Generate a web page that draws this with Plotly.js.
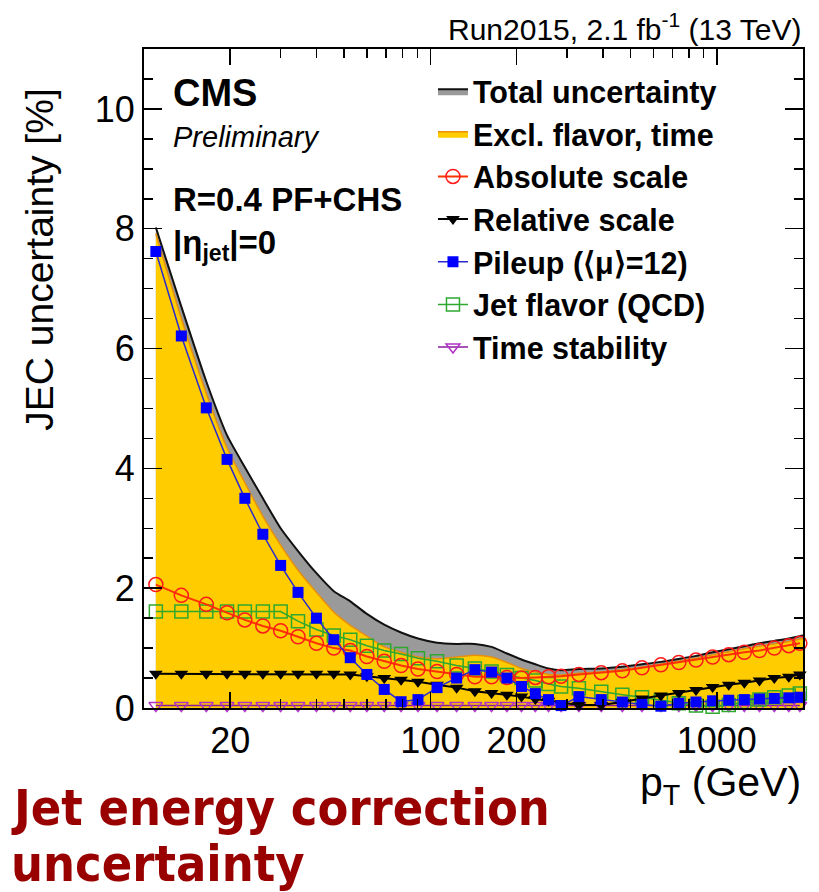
<!DOCTYPE html>
<html>
<head>
<meta charset="utf-8">
<script src="https://cdn.plot.ly/plotly-3.0.1.min.js"></script>
<style>html,body{margin:0;padding:0;background:#fff;} #plot{width:819px;height:892px;}</style>
</head>
<body>
<div id="plot"></div>
<script>
// pT points (GeV) where markers are drawn
const pt = [11, 13.5, 16.5, 19.5, 22.5, 26, 30, 34.5, 40, 46, 52.5, 60, 69, 79, 90.5, 105.5, 123.5, 143, 163.5, 185, 208, 232.5, 258.5, 286, 330, 395, 468, 548, 638, 737, 846, 967, 1101, 1248, 1410, 1588, 1784, 1950];
// pT points for the filled bands (extend to the axis end)
const bandPt = [11, 13.5, 16.5, 19.5, 22.5, 26, 30, 34.5, 40, 46, 52.5, 60, 69, 79, 90.5, 105.5, 123.5, 143, 163.5, 185, 208, 232.5, 258.5, 286, 330, 395, 468, 548, 638, 737, 846, 967, 1101, 1248, 1410, 1588, 1784, 1950, 2000];

const totalUnc = [8.02, 6.7, 5.45, 4.55, 4.02, 3.5, 3.0, 2.62, 2.25, 1.95, 1.78, 1.57, 1.39, 1.26, 1.16, 1.09, 1.07, 1.07, 1.02, 0.91, 0.81, 0.73, 0.66, 0.63, 0.65, 0.66, 0.69, 0.73, 0.77, 0.82, 0.87, 0.93, 0.98, 1.03, 1.08, 1.12, 1.16, 1.20, 1.21];
const exclFlavorTime = [7.92, 6.5, 5.25, 4.34, 3.76, 3.2, 2.72, 2.3, 1.93, 1.6, 1.38, 1.2, 1.02, 0.93, 0.85, 0.82, 0.85, 0.88, 0.85, 0.76, 0.66, 0.6, 0.56, 0.55, 0.58, 0.6, 0.64, 0.68, 0.73, 0.78, 0.83, 0.89, 0.94, 0.99, 1.03, 1.07, 1.11, 1.15, 1.16];

const absoluteScale = [2.06, 1.88, 1.73, 1.59, 1.47, 1.37, 1.29, 1.19, 1.08, 1.00, 0.96, 0.86, 0.78, 0.71, 0.65, 0.61, 0.56, 0.52, 0.52, 0.51, 0.50, 0.51, 0.52, 0.53, 0.56, 0.59, 0.62, 0.67, 0.72, 0.76, 0.80, 0.85, 0.89, 0.93, 0.96, 1.00, 1.04, 1.08];
const relativeScale = [0.57, 0.57, 0.57, 0.57, 0.57, 0.57, 0.57, 0.57, 0.57, 0.57, 0.56, 0.53, 0.50, 0.47, 0.44, 0.39, 0.34, 0.28, 0.25, 0.22, 0.19, 0.15, 0.12, 0.08, 0.05, 0.05, 0.10, 0.16, 0.21, 0.25, 0.30, 0.35, 0.39, 0.42, 0.46, 0.50, 0.52, 0.56];
const pileup = [7.62, 6.21, 5.01, 4.15, 3.50, 2.90, 2.38, 1.93, 1.50, 1.14, 0.84, 0.56, 0.31, 0.105, 0.14, 0.34, 0.50, 0.64, 0.60, 0.50, 0.36, 0.24, 0.14, 0.04, 0.19, 0.14, 0.10, 0.06, 0.03, 0.08, 0.10, 0.12, 0.13, 0.14, 0.15, 0.16, 0.17, 0.18];
const jetFlavor = [1.61, 1.61, 1.61, 1.61, 1.61, 1.61, 1.61, 1.45, 1.31, 1.21, 1.14, 1.04, 0.96, 0.90, 0.83, 0.78, 0.71, 0.66, 0.61, 0.55, 0.50, 0.46, 0.40, 0.36, 0.33, 0.27, 0.22, 0.18, 0.13, 0.08, 0.04, 0.02, 0.05, 0.10, 0.14, 0.18, 0.21, 0.24];
const timeStability = [0.04, 0.04, 0.04, 0.04, 0.04, 0.04, 0.04, 0.04, 0.04, 0.04, 0.04, 0.04, 0.04, 0.04, 0.04, 0.04, 0.04, 0.04, 0.04, 0.04, 0.04, 0.04, 0.04, 0.04, 0.04, 0.04, 0.04, 0.04, 0.04, 0.04, 0.04, 0.04, 0.04, 0.04, 0.04, 0.04, 0.04, 0.04];

const seriesNames = ["Total uncertainty", "Excl. flavor, time", "Absolute scale", "Relative scale", "Pileup (\u27E8\u03BC\u27E9=12)", "Jet flavor (QCD)", "Time stability"];
const xTickVals = [20, 100, 200, 1000];
const xTickText = ["20", "100", "200", "1000"];
const xMinorVals = [10, 30, 40, 50, 60, 70, 80, 90, 300, 400, 500, 600, 700, 800, 900, 2000];
const yTickVals = [0, 2, 4, 6, 8, 10];

const FONT = "Liberation Sans, Arial, Helvetica, sans-serif";
const RED_FONT = "DejaVu Sans Condensed, DejaVu Sans, sans-serif";

const traces = [
  {x: bandPt, y: totalUnc, name: seriesNames[0], type: 'scatter', mode: 'lines', fill: 'tozeroy',
   fillcolor: '#9a9a9a', line: {color: '#111111', width: 2, shape: 'spline', smoothing: 0.6}, legendrank: 1},
  {x: bandPt, y: exclFlavorTime, name: seriesNames[1], type: 'scatter', mode: 'lines', fill: 'tozeroy',
   fillcolor: '#ffcc00', line: {color: '#e8900a', width: 1.5, shape: 'spline', smoothing: 0.6}, legendrank: 2},
  {x: pt, y: timeStability, name: seriesNames[6], type: 'scatter', mode: 'lines+markers', cliponaxis: false,
   marker: {symbol: 'triangle-down-open', size: 12, color: '#b030c8', line: {width: 1.5}},
   line: {color: '#8a1aa0', width: 1.5}, legendrank: 7},
  {x: pt, y: jetFlavor, name: seriesNames[5], type: 'scatter', mode: 'lines+markers', cliponaxis: false,
   marker: {symbol: 'square-open', size: 13, color: '#2ea82e', line: {width: 1.5}},
   line: {color: '#2ea82e', width: 1.5}, legendrank: 6},
  {x: pt, y: relativeScale, name: seriesNames[3], type: 'scatter', mode: 'lines+markers', cliponaxis: false,
   marker: {symbol: 'triangle-down', size: 12, color: '#000000'},
   line: {color: '#000000', width: 2}, legendrank: 4},
  {x: pt, y: absoluteScale, name: seriesNames[2], type: 'scatter', mode: 'lines+markers', cliponaxis: false,
   marker: {symbol: 'circle-open', size: 14, color: '#ff1a1a', line: {width: 1.5}},
   line: {color: '#ff3300', width: 2}, legendrank: 3},
  {x: pt, y: pileup, name: seriesNames[4], type: 'scatter', mode: 'lines+markers', cliponaxis: false,
   marker: {symbol: 'square', size: 11, color: '#0000ff'},
   line: {color: '#2a2ad0', width: 1.5}, legendrank: 5}
];

const layout = {
  width: 819, height: 892,
  margin: {l: 144, r: 16, t: 49, b: 184},
  paper_bgcolor: '#ffffff', plot_bgcolor: '#ffffff',
  font: {family: FONT, color: '#000000'},
  showlegend: true,
  legend: {x: 0.4385, y: 0.976, xanchor: 'left', yanchor: 'top', bgcolor: 'rgba(0,0,0,0)',
           font: {family: FONT, size: 30.5, weight: 'bold', color: '#000'}, traceorder: 'normal',
           itemwidth: 30, tracegroupgap: 0},
  xaxis: {type: 'log', range: [1, Math.log10(2000)], showgrid: false, zeroline: false,
          showline: true, linecolor: '#000', linewidth: 2, mirror: 'allticks',
          ticks: 'inside', ticklen: 16, tickwidth: 1.5, tickcolor: '#000',
          tickmode: 'array', tickvals: xTickVals, ticktext: xTickText,
          tickfont: {family: FONT, size: 36},
          minor: {tickmode: 'array', tickvals: xMinorVals, ticks: 'inside', ticklen: 9, tickwidth: 1.5, tickcolor: '#000', showgrid: false}},
  yaxis: {range: [0, 11], showgrid: false, zeroline: false,
          showline: true, linecolor: '#000', linewidth: 2, mirror: 'allticks',
          ticks: 'inside', ticklen: 18, tickwidth: 1.5, tickcolor: '#000',
          tickmode: 'array', tickvals: yTickVals,
          tickfont: {family: FONT, size: 36},
          minor: {dtick: 0.5, tick0: 0, ticks: 'inside', ticklen: 9, tickwidth: 1.5, tickcolor: '#000', showgrid: false}},
  annotations: [
    {text: 'JEC uncertainty [%]', xref: 'paper', yref: 'paper', x: -0.158, y: 0.68, textangle: -90,
     showarrow: false, xanchor: 'center', yanchor: 'middle', font: {family: FONT, size: 39}},
    {text: 'p<sub>T</sub> (GeV)', xref: 'paper', yref: 'paper', x: 1.0, y: -0.117, showarrow: false,
     xanchor: 'right', yanchor: 'middle', font: {family: FONT, size: 41}},
    {text: 'Run2015, 2.1 fb<sup>-1</sup> (13 TeV)', xref: 'paper', yref: 'paper', x: 1.0, y: 1.034, showarrow: false,
     xanchor: 'right', yanchor: 'middle', font: {family: FONT, size: 30}},
    {text: '<b>CMS</b>', xref: 'paper', yref: 'paper', x: 0.041, y: 0.933, showarrow: false,
     xanchor: 'left', yanchor: 'middle', font: {family: FONT, size: 38}},
    {text: '<i>Preliminary</i>', xref: 'paper', yref: 'paper', x: 0.041, y: 0.866, showarrow: false,
     xanchor: 'left', yanchor: 'middle', font: {family: FONT, size: 29}},
    {text: '<b>R=0.4 PF+CHS</b>', xref: 'paper', yref: 'paper', x: 0.041, y: 0.771, showarrow: false,
     xanchor: 'left', yanchor: 'middle', font: {family: FONT, size: 33}},
    {text: '<b>|\u03B7<sub>jet</sub>|=0</b>', xref: 'paper', yref: 'paper', x: 0.041, y: 0.703, showarrow: false,
     xanchor: 'left', yanchor: 'middle', font: {family: FONT, size: 33}},
    {text: '<b>Jet energy correction</b>', xref: 'paper', yref: 'paper', x: -0.205, y: -0.152, showarrow: false,
     xanchor: 'left', yanchor: 'middle', align: 'left', font: {family: RED_FONT, size: 50, color: '#990000'}},
    {text: '<b>uncertainty</b>', xref: 'paper', yref: 'paper', x: -0.205, y: -0.236, showarrow: false,
     xanchor: 'left', yanchor: 'middle', align: 'left', font: {family: RED_FONT, size: 50, color: '#990000'}}
  ]
};

Plotly.newPlot('plot', traces, layout, {displayModeBar: false, staticPlot: true});
</script>
</body>
</html>
